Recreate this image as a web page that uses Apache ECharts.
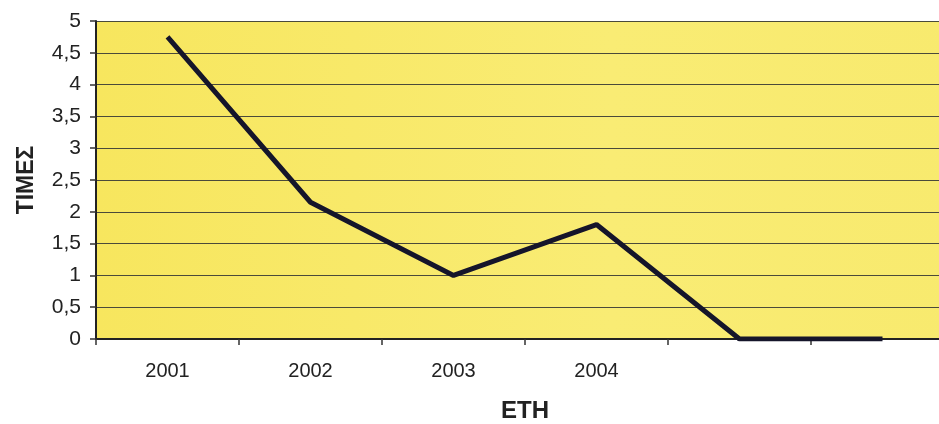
<!DOCTYPE html>
<html>
<head>
<meta charset="utf-8">
<script src="https://cdn.jsdelivr.net/npm/echarts@6/dist/echarts.min.js"></script>
<style>
html,body{margin:0;padding:0;background:#fff;overflow:hidden;width:939px;height:424px;}
#c{width:954px;height:424px;}
</style>
</head>
<body>
<div id="c"></div>
<script>
var categories = ['2001', '2002', '2003', '2004', '', ''];
var values = [4.75, 2.15, 1.0, 1.8, 0, 0];
var yTicks = [0, 0.5, 1, 1.5, 2, 2.5, 3, 3.5, 4, 4.5, 5];

var chart = echarts.init(document.getElementById('c'));
chart.setOption({
  animation: false,
  backgroundColor: '#ffffff',
  grid: {
    left: 96, right: 0, top: 21, bottom: 85,
    outerBoundsMode: 'none',
    containLabel: false,
    show: true,
    backgroundColor: {
      type: 'linear', x: 0, y: 0, x2: 1, y2: 0,
      colorStops: [
        {offset: 0, color: '#F7E65E'},
        {offset: 0.6, color: '#F9EC74'},
        {offset: 1, color: '#F8EA6E'}
      ]
    },
    borderWidth: 0
  },
  xAxis: {
    type: 'category',
    data: categories,
    boundaryGap: true,
    name: 'ΕΤΗ',
    nameLocation: 'middle',
    nameGap: 60,
    nameTextStyle: {fontFamily: 'Liberation Sans', fontWeight: 'bold', fontSize: 24, color: '#222'},
    axisLine: {lineStyle: {color: '#222', width: 2}},
    axisTick: {show: true, length: 6, lineStyle: {color: '#333', width: 1.5}},
    axisLabel: {fontFamily: 'Liberation Sans', fontSize: 20, color: '#222', margin: 22},
    splitLine: {show: false}
  },
  yAxis: {
    type: 'value',
    min: 0, max: 5, interval: 0.5,
    name: 'ΤΙΜΕΣ',
    nameLocation: 'middle',
    nameGap: 58,
    nameRotate: 90,
    nameTextStyle: {fontFamily: 'Liberation Sans', fontWeight: 'bold', fontSize: 23, color: '#222'},
    axisLine: {show: true, lineStyle: {color: '#222', width: 2}},
    axisTick: {show: true, length: 6, lineStyle: {color: '#333', width: 1.5}},
    axisLabel: {
      fontFamily: 'Liberation Sans', fontSize: 21, color: '#222', margin: 15,
      formatter: function (v) { return yTicks.indexOf(v) >= 0 ? String(v).replace('.', ',') : ''; }
    },
    splitLine: {show: true, lineStyle: {color: '#4a4a3a', width: 1}}
  },
  series: [{
    type: 'line',
    data: values,
    symbol: 'none',
    lineStyle: {color: '#15152a', width: 5},
    z: 5
  }]
});
</script>
</body>
</html>
